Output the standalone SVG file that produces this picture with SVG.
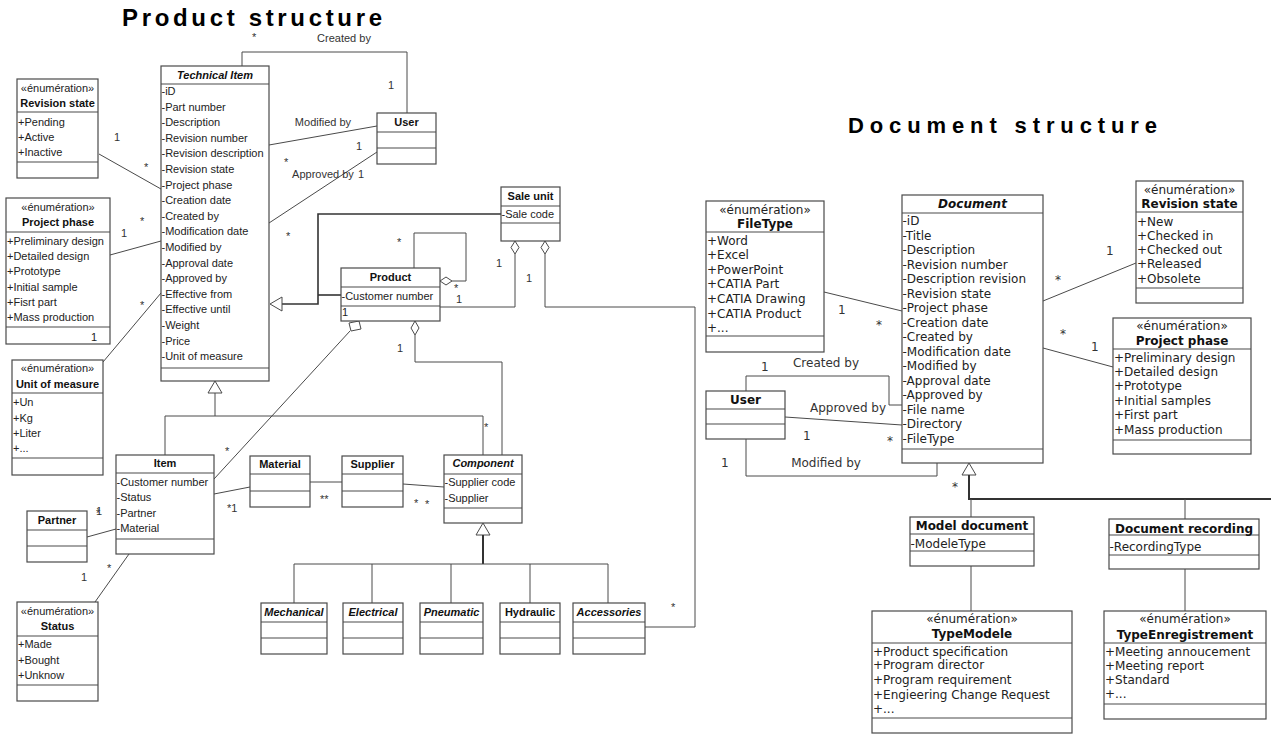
<svg xmlns="http://www.w3.org/2000/svg" width="1271" height="734" viewBox="0 0 1271 734">
<style>
.bx{fill:#fff;stroke:#4a4a4a;stroke-width:1.2}
.sp{stroke:#4a4a4a;stroke-width:1.2}
.ln{fill:none;stroke:#4a4a4a;stroke-width:1}
.th{fill:none;stroke:#333;stroke-width:2}
.hd{fill:#fff;stroke:#4a4a4a;stroke-width:1}
.t{font-family:"Liberation Sans",Arial,sans-serif;font-size:11px;fill:#222}
.b{font-family:"Liberation Sans",Arial,sans-serif;font-size:11px;font-weight:bold;fill:#111;text-anchor:middle}
.bi{font-family:"Liberation Sans",Arial,sans-serif;font-size:11px;font-weight:bold;font-style:italic;fill:#111;text-anchor:middle}
.st{font-family:"Liberation Sans",Arial,sans-serif;font-size:11px;fill:#222;text-anchor:middle}
.lb{font-family:"Liberation Sans",Arial,sans-serif;font-size:11px;fill:#333}
.r{font-family:"DejaVu Sans",Verdana,sans-serif;font-size:12px;fill:#222}
.rb{font-family:"DejaVu Sans",Verdana,sans-serif;font-size:12px;font-weight:bold;fill:#111;text-anchor:middle}
.rbi{font-family:"DejaVu Sans",Verdana,sans-serif;font-size:12px;font-weight:bold;font-style:italic;fill:#111;text-anchor:middle}
.rs{font-family:"DejaVu Sans",Verdana,sans-serif;font-size:12px;fill:#222;text-anchor:middle}
.rl{font-family:"DejaVu Sans",Verdana,sans-serif;font-size:12px;fill:#333}
.ti{font-family:"Liberation Sans",Arial,sans-serif;font-weight:bold;fill:#000}
</style>

<g id="titles">
<text class="ti" x="122" y="26" font-size="24" textLength="260" lengthAdjust="spacing">Product structure</text>
<text class="ti" x="848" y="133" font-size="22" textLength="309" lengthAdjust="spacing">Document structure</text>
</g>

<g id="connectors">
<!-- left side -->
<line class="ln" x1="99" y1="154" x2="161" y2="189"/>
<line class="ln" x1="110" y1="255" x2="161" y2="241"/>
<line class="ln" x1="103" y1="362" x2="161" y2="293"/>
<polyline class="ln" points="242,66 242,52 407,52 407,113"/>
<line class="ln" x1="269" y1="145" x2="377" y2="126"/>
<line class="ln" x1="377" y1="152" x2="269" y2="223"/>
<polyline class="th" points="501,214 318,214 318,304 281,304" style="stroke-width:1.6"/>
<polyline class="th" points="341,295 318,295" style="stroke-width:1.6"/>
<polygon class="hd" points="270,304 282,297 282,311"/>
<polyline class="ln" points="414,268 414,233 466,233 466,281 452,281"/>
<polygon class="hd" points="440,281 446,277 452,281 446,285"/>
<polyline class="ln" points="515,254 515,307 440,307"/>
<polygon class="hd" points="515,241 519,247.5 515,254 511,247.5"/>
<polyline class="ln" points="545,254 545,307 695,307 695,627 645,627"/>
<polygon class="hd" points="545,241 549,247.5 545,254 541,247.5"/>
<polygon class="hd" points="359,321 361,329 351,331 349,323"/>
<line class="ln" x1="350" y1="331" x2="214" y2="479"/>
<polyline class="ln" points="415,335 415,362 502,362 502,455"/>
<polygon class="hd" points="415,321 419,328 415,335 411,328"/>
<polygon class="hd" points="215,381 222,393 208,393"/>
<polyline class="ln" points="215,393 215,416"/>
<polyline class="ln" points="165,455 165,416 483,416 483,455"/>
<line class="ln" x1="87" y1="537" x2="116" y2="529"/>
<line class="ln" x1="214" y1="494" x2="250" y2="487"/>
<line class="ln" x1="310" y1="482" x2="342" y2="482"/>
<line class="ln" x1="403" y1="484" x2="444" y2="487"/>
<polygon class="hd" points="483,523 490,535 476,535"/>
<line class="th" x1="483" y1="535" x2="483" y2="564"/>
<polyline class="ln" points="294,603 294,564 608,564 608,603"/>
<line class="ln" x1="372" y1="564" x2="372" y2="603"/>
<line class="ln" x1="451" y1="564" x2="451" y2="603"/>
<line class="ln" x1="530" y1="564" x2="530" y2="603"/>
<line class="ln" x1="95" y1="602" x2="129" y2="554"/>
<!-- right side -->
<line class="ln" x1="824" y1="292" x2="902" y2="311"/>
<line class="ln" x1="1136" y1="263" x2="1043" y2="301"/>
<line class="ln" x1="1043" y1="348" x2="1113" y2="367"/>
<polyline class="ln" points="746,391 746,376 889,376 889,405 902,405"/>
<line class="ln" x1="785" y1="417" x2="902" y2="425"/>
<polyline class="ln" points="746,439 746,476 937,476 937,463"/>
<polygon class="hd" points="969,463 976,475 962,475"/>
<polyline class="th" points="969,475 969,499 1271,499"/>
<line class="ln" x1="971" y1="499" x2="971" y2="517"/>
<line class="ln" x1="1185" y1="499" x2="1185" y2="519"/>
<line class="ln" x1="971" y1="566" x2="971" y2="611"/>
<line class="ln" x1="1185" y1="569" x2="1185" y2="611"/>

<!-- labels left -->
<text class="lb" x="114" y="141">1</text>
<text class="lb" x="144" y="171">*</text>
<text class="lb" x="121" y="237">1</text>
<text class="lb" x="140" y="225">*</text>
<text class="lb" x="140" y="309">*</text>
<text class="lb" x="252" y="41">*</text>
<text class="lb" x="344" y="42" text-anchor="middle">Created by</text>
<text class="lb" x="388" y="89">1</text>
<text class="lb" x="323" y="126" text-anchor="middle">Modified by</text>
<text class="lb" x="356" y="150">1</text>
<text class="lb" x="284" y="166">*</text>
<text class="lb" x="323" y="178" text-anchor="middle">Approved by</text>
<text class="lb" x="358" y="178">1</text>
<text class="lb" x="286" y="240">*</text>
<text class="lb" x="397" y="246">*</text>
<text class="lb" x="454" y="292">*</text>
<text class="lb" x="496" y="267">1</text>
<text class="lb" x="456" y="303">1</text>
<text class="lb" x="526" y="282">1</text>
<text class="lb" x="671" y="611">*</text>
<text class="lb" x="225" y="455">*</text>
<text class="lb" x="397" y="352">1</text>
<text class="lb" x="484" y="431">*</text>
<text class="lb" x="96" y="515">1</text>
<text class="lb" x="96" y="517">*</text>
<text class="lb" x="227" y="512">*1</text>
<text class="lb" x="320" y="503">**</text>
<text class="lb" x="414" y="507">*</text>
<text class="lb" x="425" y="508">*</text>
<text class="lb" x="81" y="581">1</text>
<text class="lb" x="107" y="572">*</text>
<!-- labels right -->
<text class="rl" x="838" y="314">1</text>
<text class="rl" x="876" y="329">*</text>
<text class="rl" x="1106" y="255">1</text>
<text class="rl" x="1055" y="284">*</text>
<text class="rl" x="1060" y="338">*</text>
<text class="rl" x="1091" y="351">1</text>
<text class="rl" x="761" y="371">1</text>
<text class="rl" x="826" y="367" text-anchor="middle">Created by</text>
<text class="rl" x="848" y="412" text-anchor="middle">Approved by</text>
<text class="rl" x="803" y="440">1</text>
<text class="rl" x="887" y="445">*</text>
<text class="rl" x="721" y="467">1</text>
<text class="rl" x="826" y="467" text-anchor="middle">Modified by</text>
<text class="rl" x="952" y="491">*</text>
</g>

<g id="enum-revision-state-left">
<rect class="bx" x="17" y="79" width="81" height="99"/>
<line class="sp" x1="17" y1="112" x2="98" y2="112"/>
<line class="sp" x1="17" y1="162" x2="98" y2="162"/>
<text class="st" x="57.5" y="92">«énumération»</text>
<text class="b" x="57.5" y="107">Revision state</text>
<text class="t" x="18" y="126">+Pending</text>
<text class="t" x="18" y="141">+Active</text>
<text class="t" x="18" y="156">+Inactive</text>
</g>

<g id="technical-item">
<rect class="bx" x="161" y="66" width="108" height="315"/>
<line class="sp" x1="161" y1="84" x2="269" y2="84"/>
<line class="sp" x1="161" y1="368" x2="269" y2="368"/>
<text class="bi" x="215" y="79">Technical Item</text>
<text class="t" x="161.5" y="95">-iD</text>
<text class="t" x="161.5" y="110.6">-Part number</text>
<text class="t" x="161.5" y="126.2">-Description</text>
<text class="t" x="161.5" y="141.8">-Revision number</text>
<text class="t" x="161.5" y="157.4">-Revision description</text>
<text class="t" x="161.5" y="173">-Revision state</text>
<text class="t" x="161.5" y="188.6">-Project phase</text>
<text class="t" x="161.5" y="204.2">-Creation date</text>
<text class="t" x="161.5" y="219.8">-Created by</text>
<text class="t" x="161.5" y="235.4">-Modification date</text>
<text class="t" x="161.5" y="251">-Modified by</text>
<text class="t" x="161.5" y="266.6">-Approval date</text>
<text class="t" x="161.5" y="282.2">-Approved by</text>
<text class="t" x="161.5" y="297.8">-Effective from</text>
<text class="t" x="161.5" y="313.4">-Effective until</text>
<text class="t" x="161.5" y="329">-Weight</text>
<text class="t" x="161.5" y="344.6">-Price</text>
<text class="t" x="161.5" y="360.2">-Unit of measure</text>
</g>

<g id="enum-project-phase-left">
<rect class="bx" x="6" y="198" width="104" height="146"/>
<line class="sp" x1="6" y1="232" x2="110" y2="232"/>
<line class="sp" x1="6" y1="327" x2="110" y2="327"/>
<text class="st" x="58" y="211">«énumération»</text>
<text class="b" x="58" y="226">Project phase</text>
<text class="t" x="7" y="245">+Preliminary design</text>
<text class="t" x="7" y="260.2">+Detailed design</text>
<text class="t" x="7" y="275.4">+Prototype</text>
<text class="t" x="7" y="290.6">+Initial sample</text>
<text class="t" x="7" y="305.8">+Fisrt part</text>
<text class="t" x="7" y="321">+Mass production</text>
<text class="t" x="91" y="341">1</text>
</g>

<g id="enum-unit-of-measure">
<rect class="bx" x="12" y="360" width="91" height="115"/>
<line class="sp" x1="12" y1="393" x2="103" y2="393"/>
<line class="sp" x1="12" y1="458" x2="103" y2="458"/>
<text class="st" x="57.5" y="372">«énumération»</text>
<text class="b" x="57.5" y="388">Unit of measure</text>
<text class="t" x="13" y="406">+Un</text>
<text class="t" x="13" y="422">+Kg</text>
<text class="t" x="13" y="437">+Liter</text>
<text class="t" x="13" y="452">+...</text>
</g>

<g id="user-left">
<rect class="bx" x="377" y="113" width="59" height="51"/>
<line class="sp" x1="377" y1="132" x2="436" y2="132"/>
<line class="sp" x1="377" y1="148" x2="436" y2="148"/>
<text class="b" x="406.5" y="126">User</text>
</g>

<g id="sale-unit">
<rect class="bx" x="501" y="187" width="59" height="54"/>
<line class="sp" x1="501" y1="206" x2="560" y2="206"/>
<line class="sp" x1="501" y1="223" x2="560" y2="223"/>
<text class="b" x="530.5" y="200">Sale unit</text>
<text class="t" x="501.5" y="218">-Sale code</text>
</g>

<g id="product">
<rect class="bx" x="341" y="268" width="99" height="53"/>
<line class="sp" x1="341" y1="287" x2="440" y2="287"/>
<line class="sp" x1="341" y1="306" x2="440" y2="306"/>
<text class="b" x="390.5" y="281">Product</text>
<text class="t" x="341.5" y="300">-Customer number</text>
<text class="t" x="342" y="316">1</text>
</g>

<g id="item">
<rect class="bx" x="116" y="455" width="98" height="99"/>
<line class="sp" x1="116" y1="473" x2="214" y2="473"/>
<line class="sp" x1="116" y1="539" x2="214" y2="539"/>
<text class="b" x="165" y="467">Item</text>
<text class="t" x="116.5" y="486">-Customer number</text>
<text class="t" x="116.5" y="501">-Status</text>
<text class="t" x="116.5" y="517">-Partner</text>
<text class="t" x="116.5" y="532">-Material</text>
</g>

<g id="partner">
<rect class="bx" x="27" y="511" width="60" height="51"/>
<line class="sp" x1="27" y1="530" x2="87" y2="530"/>
<line class="sp" x1="27" y1="546" x2="87" y2="546"/>
<text class="b" x="57" y="524">Partner</text>
</g>

<g id="material">
<rect class="bx" x="250" y="456" width="60" height="51"/>
<line class="sp" x1="250" y1="474" x2="310" y2="474"/>
<line class="sp" x1="250" y1="491" x2="310" y2="491"/>
<text class="b" x="280" y="468">Material</text>
</g>

<g id="supplier">
<rect class="bx" x="342" y="456" width="61" height="51"/>
<line class="sp" x1="342" y1="474" x2="403" y2="474"/>
<line class="sp" x1="342" y1="491" x2="403" y2="491"/>
<text class="b" x="372.5" y="468">Supplier</text>
</g>

<g id="component">
<rect class="bx" x="444" y="455" width="78" height="68"/>
<line class="sp" x1="444" y1="474" x2="522" y2="474"/>
<line class="sp" x1="444" y1="508" x2="522" y2="508"/>
<text class="bi" x="483" y="467">Component</text>
<text class="t" x="444.5" y="486">-Supplier code</text>
<text class="t" x="444.5" y="502">-Supplier</text>
</g>

<g id="mechanical">
<rect class="bx" x="261" y="603" width="66" height="51"/>
<line class="sp" x1="261" y1="622" x2="327" y2="622"/>
<line class="sp" x1="261" y1="638" x2="327" y2="638"/>
<text class="bi" x="294" y="616">Mechanical</text>
</g>
<g id="electrical">
<rect class="bx" x="343" y="603" width="60" height="51"/>
<line class="sp" x1="343" y1="622" x2="403" y2="622"/>
<line class="sp" x1="343" y1="638" x2="403" y2="638"/>
<text class="bi" x="373" y="616">Electrical</text>
</g>
<g id="pneumatic">
<rect class="bx" x="420" y="603" width="63" height="51"/>
<line class="sp" x1="420" y1="622" x2="483" y2="622"/>
<line class="sp" x1="420" y1="638" x2="483" y2="638"/>
<text class="bi" x="451.5" y="616">Pneumatic</text>
</g>
<g id="hydraulic">
<rect class="bx" x="500" y="603" width="60" height="51"/>
<line class="sp" x1="500" y1="622" x2="560" y2="622"/>
<line class="sp" x1="500" y1="638" x2="560" y2="638"/>
<text class="b" x="530" y="616">Hydraulic</text>
</g>
<g id="accessories">
<rect class="bx" x="573" y="603" width="72" height="51"/>
<line class="sp" x1="573" y1="622" x2="645" y2="622"/>
<line class="sp" x1="573" y1="638" x2="645" y2="638"/>
<text class="bi" x="609" y="616">Accessories</text>
</g>

<g id="enum-status">
<rect class="bx" x="17" y="602" width="81" height="99"/>
<line class="sp" x1="17" y1="636" x2="98" y2="636"/>
<line class="sp" x1="17" y1="685" x2="98" y2="685"/>
<text class="st" x="57.5" y="615">«énumération»</text>
<text class="b" x="57.5" y="630">Status</text>
<text class="t" x="18" y="648">+Made</text>
<text class="t" x="18" y="664">+Bought</text>
<text class="t" x="18" y="679">+Unknow</text>
</g>

<!-- right side -->
<g id="enum-filetype">
<rect class="bx" x="706" y="201" width="118" height="151"/>
<line class="sp" x1="706" y1="232" x2="824" y2="232"/>
<line class="sp" x1="706" y1="336" x2="824" y2="336"/>
<text class="rs" x="765" y="213.5">«énumération»</text>
<text class="rb" x="765" y="227.5">FileType</text>
<text class="r" x="707" y="244.5">+Word</text>
<text class="r" x="707" y="259.1">+Excel</text>
<text class="r" x="707" y="273.7">+PowerPoint</text>
<text class="r" x="707" y="288.3">+CATIA Part</text>
<text class="r" x="707" y="302.9">+CATIA Drawing</text>
<text class="r" x="707" y="317.5">+CATIA Product</text>
<text class="r" x="707" y="332.1">+...</text>
</g>

<g id="document">
<rect class="bx" x="902" y="195" width="141" height="268"/>
<line class="sp" x1="902" y1="213" x2="1043" y2="213"/>
<line class="sp" x1="902" y1="449" x2="1043" y2="449"/>
<text class="rbi" x="972.5" y="208">Document</text>
<text class="r" x="902.5" y="225">-iD</text>
<text class="r" x="902.5" y="239.5">-Title</text>
<text class="r" x="902.5" y="254">-Description</text>
<text class="r" x="902.5" y="268.5">-Revision number</text>
<text class="r" x="902.5" y="283">-Description revision</text>
<text class="r" x="902.5" y="297.5">-Revision state</text>
<text class="r" x="902.5" y="312">-Project phase</text>
<text class="r" x="902.5" y="326.5">-Creation date</text>
<text class="r" x="902.5" y="341">-Created by</text>
<text class="r" x="902.5" y="355.5">-Modification date</text>
<text class="r" x="902.5" y="370">-Modified by</text>
<text class="r" x="902.5" y="384.5">-Approval date</text>
<text class="r" x="902.5" y="399">-Approved by</text>
<text class="r" x="902.5" y="413.5">-File name</text>
<text class="r" x="902.5" y="428">-Directory</text>
<text class="r" x="902.5" y="442.5">-FileType</text>
</g>

<g id="enum-revision-state-right">
<rect class="bx" x="1136" y="181" width="107" height="122"/>
<line class="sp" x1="1136" y1="212" x2="1243" y2="212"/>
<line class="sp" x1="1136" y1="288" x2="1243" y2="288"/>
<text class="rs" x="1189.5" y="193.5">«énumération»</text>
<text class="rb" x="1189.5" y="207.5">Revision state</text>
<text class="r" x="1137" y="225.5">+New</text>
<text class="r" x="1137" y="239.8">+Checked in</text>
<text class="r" x="1137" y="254.1">+Checked out</text>
<text class="r" x="1137" y="268.4">+Released</text>
<text class="r" x="1137" y="282.7">+Obsolete</text>
</g>

<g id="enum-project-phase-right">
<rect class="bx" x="1113" y="318" width="138" height="136"/>
<line class="sp" x1="1113" y1="349" x2="1251" y2="349"/>
<line class="sp" x1="1113" y1="440" x2="1251" y2="440"/>
<text class="rs" x="1182" y="329.5">«énumération»</text>
<text class="rb" x="1182" y="344.5">Project phase</text>
<text class="r" x="1114" y="361.5">+Preliminary design</text>
<text class="r" x="1114" y="375.9">+Detailed design</text>
<text class="r" x="1114" y="390.3">+Prototype</text>
<text class="r" x="1114" y="404.7">+Initial samples</text>
<text class="r" x="1114" y="419.1">+First part</text>
<text class="r" x="1114" y="433.5">+Mass production</text>
</g>

<g id="user-right">
<rect class="bx" x="706" y="391" width="79" height="48"/>
<line class="sp" x1="706" y1="409" x2="785" y2="409"/>
<line class="sp" x1="706" y1="424" x2="785" y2="424"/>
<text class="rb" x="745.5" y="403.5">User</text>
</g>

<g id="model-document">
<rect class="bx" x="910" y="517" width="124" height="49"/>
<line class="sp" x1="910" y1="534" x2="1034" y2="534"/>
<line class="sp" x1="910" y1="551" x2="1034" y2="551"/>
<text class="rb" x="972" y="529.5">Model document</text>
<text class="r" x="910.5" y="547.5">-ModeleType</text>
</g>

<g id="document-recording">
<rect class="bx" x="1109" y="519" width="150" height="50"/>
<line class="sp" x1="1109" y1="535" x2="1259" y2="535"/>
<line class="sp" x1="1109" y1="555" x2="1259" y2="555"/>
<text class="rb" x="1184" y="532.5">Document recording</text>
<text class="r" x="1109.5" y="550.5">-RecordingType</text>
</g>

<g id="enum-typemodele">
<rect class="bx" x="872" y="611" width="200" height="122"/>
<line class="sp" x1="872" y1="643" x2="1072" y2="643"/>
<line class="sp" x1="872" y1="718" x2="1072" y2="718"/>
<text class="rs" x="972" y="622.5">«énumération»</text>
<text class="rb" x="972" y="637.5">TypeModele</text>
<text class="r" x="873" y="655.5">+Product specification</text>
<text class="r" x="873" y="669">+Program director</text>
<text class="r" x="873" y="683.5">+Program requirement</text>
<text class="r" x="873" y="698.5">+Engieering Change Request</text>
<text class="r" x="873" y="713">+...</text>
</g>

<g id="enum-typeenregistrement">
<rect class="bx" x="1104" y="611" width="162" height="108"/>
<line class="sp" x1="1104" y1="643" x2="1266" y2="643"/>
<line class="sp" x1="1104" y1="704" x2="1266" y2="704"/>
<text class="rs" x="1185" y="622.5">«énumération»</text>
<text class="rb" x="1185" y="638.5">TypeEnregistrement</text>
<text class="r" x="1105" y="655.5">+Meeting annoucement</text>
<text class="r" x="1105" y="669.8">+Meeting report</text>
<text class="r" x="1105" y="684.1">+Standard</text>
<text class="r" x="1105" y="698.4">+...</text>
</g>
</svg>
